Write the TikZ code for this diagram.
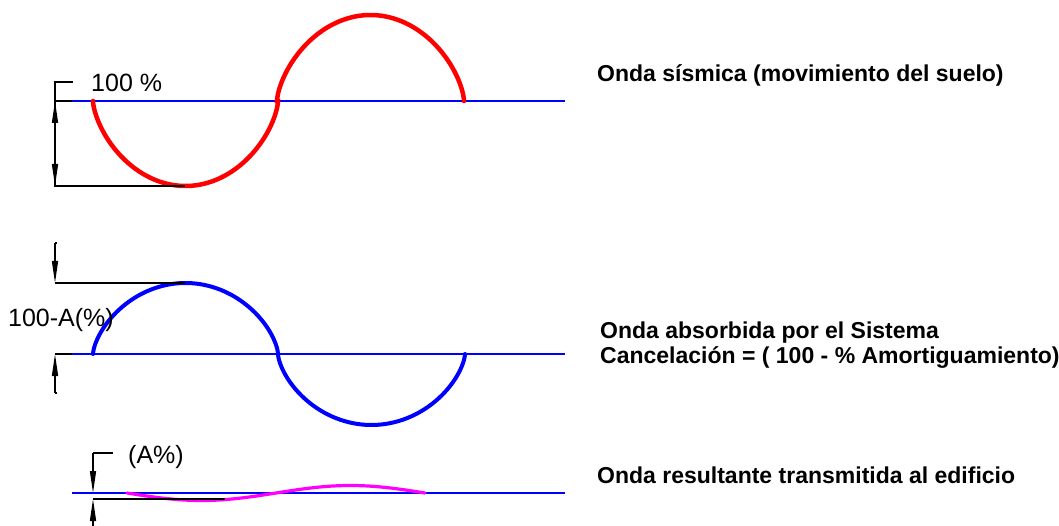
\documentclass[tikz,border=0pt]{standalone}
\usepackage{fontspec}
\setmainfont{Liberation Sans}
\usetikzlibrary{arrows.meta}
\definecolor{wred}{RGB}{255,0,0}
\definecolor{wblue}{RGB}{0,0,255}
\definecolor{wmag}{RGB}{255,0,255}
\tikzset{
  baseline/.style={wblue, line width=1.8pt},
  dimline/.style={black, line width=1.4pt},
  dimarrow/.style={black, line width=1.4pt, -{Stealth[length=22pt,width=6pt,inset=0pt]}},
  caption/.style={anchor=base west, inner sep=0pt, font=\fontsize{23}{25}\selectfont\bfseries, align=left},
  dimlabel/.style={anchor=base west, inner sep=0pt, font=\fontsize{25}{27}\selectfont},
}
\begin{document}
\begin{tikzpicture}[x=1pt,y=-1pt]
\useasboundingbox (0,0) rectangle (1059,526);

% ---------- wave 1 : seismic wave ----------
\coordinate (b1s) at (72,101);
\coordinate (b1e) at (565,101);
\draw[baseline] (b1s) -- (b1e);
\draw[wred, line width=4.5pt, line cap=round]
  plot[domain=0:180, samples=70, smooth] ({185.5-92.5*cos(\x)}, {101+85*pow(max(sin(\x),0.0001),1.3)})
  -- plot[domain=0:180, samples=70, smooth] ({370.5-93.5*cos(\x)}, {101-86*pow(max(sin(\x),0.0001),1.3)});

% dimension 1
\coordinate (d1top) at (55,82);
\coordinate (d1tt) at (73,82);
\coordinate (d1base) at (55,101);
\coordinate (d1bot) at (55,186);
\coordinate (d1botend) at (185,186);
\draw[dimline] (d1tt) -- (d1top) -- (d1bot) -- (d1botend);
\draw[dimline] (d1base) -- (b1s);
\draw[dimarrow] (55,124) -- (d1base);
\draw[dimarrow] (55,163) -- (d1bot);
\node[dimlabel] (l100) at (91,92) {100 \%};

% ---------- wave 2 : absorbed wave ----------
\coordinate (b2s) at (72,354);
\coordinate (b2e) at (565,354);
\draw[baseline] (b2s) -- (b2e);
\draw[wblue, line width=4pt, line cap=round]
  plot[domain=0:180, samples=70, smooth] ({185.5-92.5*cos(\x)}, {354-71*pow(max(sin(\x),0.0001),1.3)})
  -- plot[domain=0:180, samples=70, smooth] ({371.5-93.5*cos(\x)}, {354+71*pow(max(sin(\x),0.0001),1.3)});

% dimension 2
\coordinate (d2top) at (55,243);
\coordinate (d2hi) at (55,283);
\coordinate (d2hiend) at (185,283);
\coordinate (d2base) at (55,354);
\coordinate (d2bot) at (55,393);
\draw[dimline] (57,243) -- (d2top);
\draw[dimarrow] (d2top) -- (d2hi);
\draw[dimline] (d2hi) -- (d2hiend);
\draw[dimline] (d2base) -- (b2s);
\draw[dimline] (57,393) -- (d2bot);
\draw[dimarrow] (d2bot) -- (d2base);
\node[dimlabel] (l100a) at (8,326) {100-A(\%)};

% ---------- wave 3 : resulting wave ----------
\coordinate (b3s) at (72,493);
\coordinate (b3e) at (565,493);
\draw[baseline] (b3s) -- (b3e);
\draw[wmag, line width=3.2pt, line cap=round]
  plot[domain=0:360, samples=80, smooth] ({127+\x/360*298}, {493+7.5*sin(\x)});

% dimension 3
\coordinate (d3tt) at (113,453);
\coordinate (d3top) at (93,453);
\coordinate (d3base) at (93,493);
\coordinate (d3low) at (93,499);
\coordinate (d3lowend) at (225,499);
\coordinate (d3bot) at (93,526);
\draw[dimline] (d3tt) -- (d3top);
\draw[dimarrow] (d3top) -- (d3base);
\draw[dimline] (d3low) -- (d3lowend);
\draw[dimarrow] (d3bot) -- (d3low);
\node[dimlabel] (la) at (128,463) {(A\%)};

% ---------- captions ----------
\node[caption] (c1) at (597,82) {Onda sísmica (movimiento del suelo)};
\node[caption] (c2) at (600,363) {Onda absorbida por el Sistema\\Cancelación = ( 100 - \% Amortiguamiento)};
\node[caption] (c3) at (597,483) {Onda resultante transmitida al edificio};
\end{tikzpicture}
\end{document}
